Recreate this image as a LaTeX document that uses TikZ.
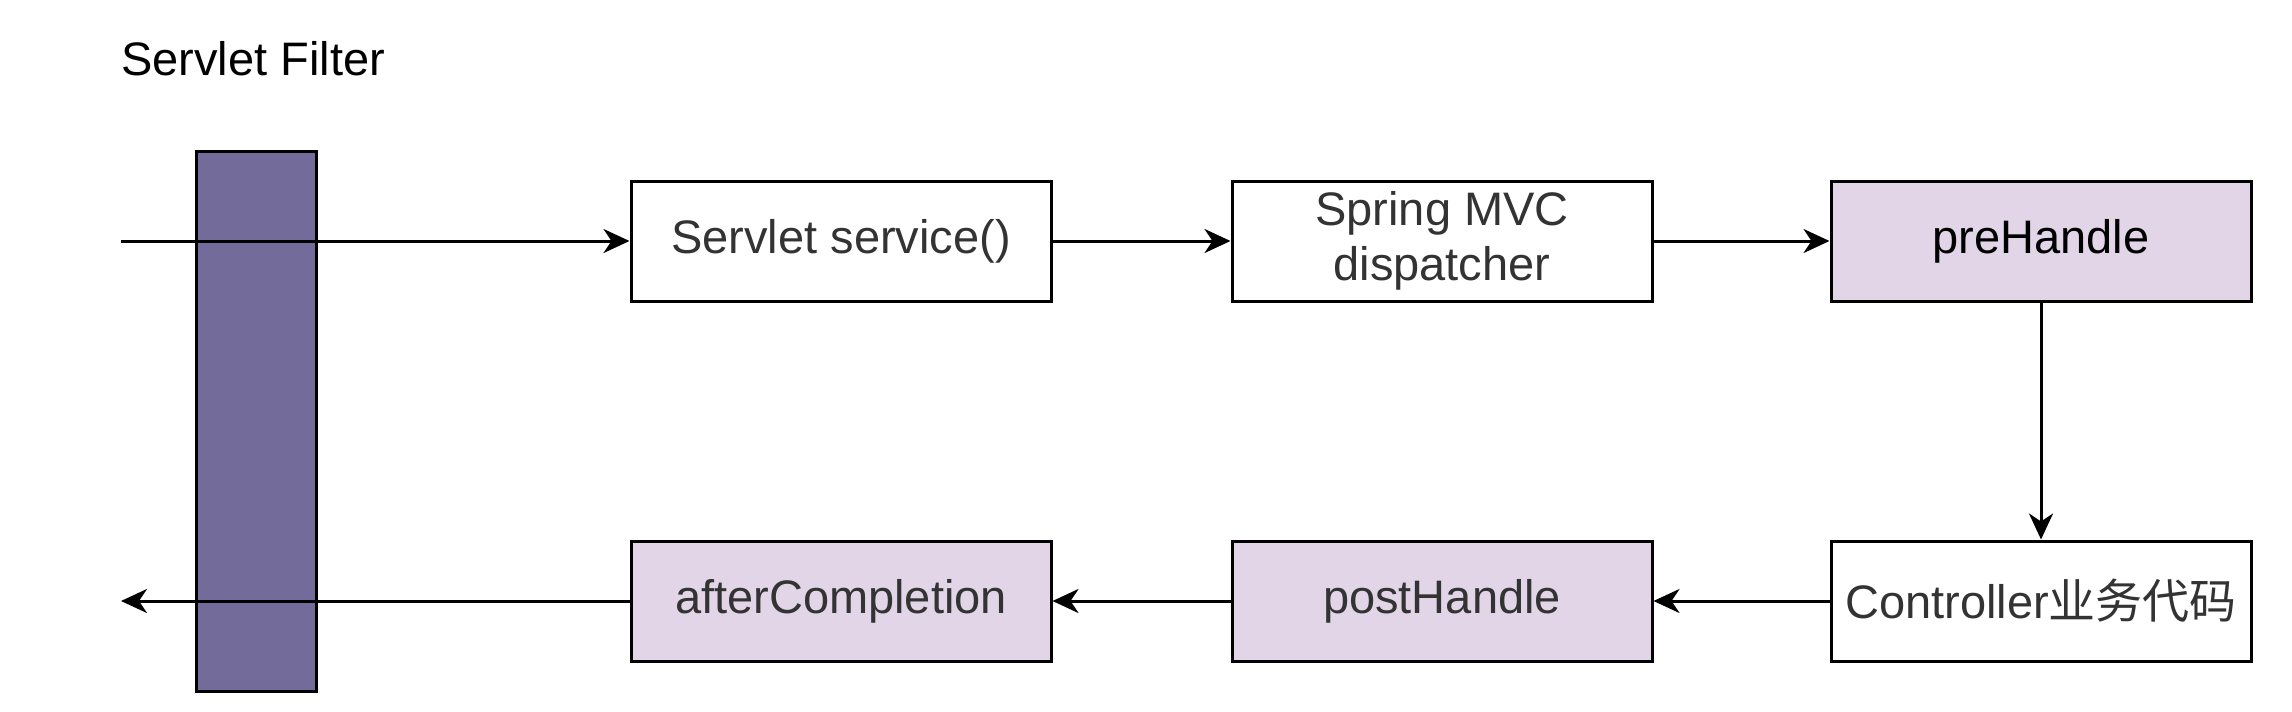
\documentclass[tikz,border=0pt]{standalone}
\usepackage{fontspec}
\setmainfont{Liberation Sans}
\newfontfamily\cjk{Noto Sans CJK SC}
\usetikzlibrary{arrows.meta}
\definecolor{barfill}{HTML}{736C9B}
\definecolor{boxfill}{HTML}{E1D5E7}
\definecolor{txtgray}{HTML}{333333}
\tikzset{
  stepbox/.style={draw=black, line width=3pt, minimum width=420pt, minimum height=120pt,
    inner sep=0pt, align=center, text=txtgray, font=\fontsize{47}{55}\selectfont},
  hlbox/.style={stepbox, fill=boxfill},
  conn/.style={line width=3pt, -{Stealth[length=26pt,width=24pt,inset=8pt]}},
}
\begin{document}
\begin{tikzpicture}[x=1pt,y=-1pt]
\useasboundingbox[fill=white] (0,0) rectangle (2292,712);
\node[anchor=base west, inner sep=0pt, font=\fontsize{47}{55}\selectfont] (title) at (121,75) {Servlet Filter};
\draw[line width=3pt, fill=barfill] (196,151) rectangle (316,691);
\node[stepbox] (svc) at (841,241) {Servlet service()};
\node[stepbox] (disp) at (1442,241) {Spring MVC\\dispatcher};
\node[hlbox, text=black] (pre) at (2041,241) {preHandle};
\node[stepbox] (ctrl) at (2041,601) {Controller{\cjk 业务代码}};
\node[hlbox] (post) at (1442,601) {postHandle};
\node[hlbox] (after) at (841,601) {afterCompletion};
\coordinate (in) at (121,241);
\coordinate (out) at (121,601);
\draw[conn] (in) -- (svc);
\draw[conn] (svc) -- (disp);
\draw[conn] (disp) -- (pre);
\draw[conn] (pre) -- (ctrl);
\draw[conn] (ctrl) -- (post);
\draw[conn] (post) -- (after);
\draw[conn] (after) -- (out);
\end{tikzpicture}
\end{document}
